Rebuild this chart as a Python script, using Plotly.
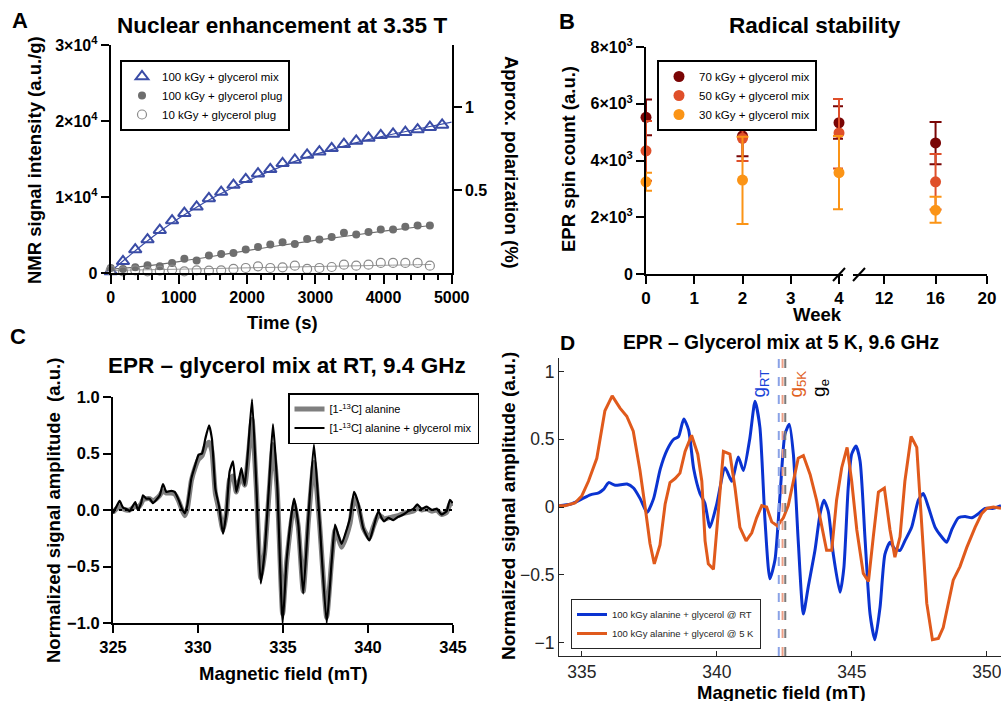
import plotly.graph_objects as go

W, H = 1001, 701
FONT = "Liberation Sans, Arial, Helvetica, sans-serif"

# ---------------- Panel A data ----------------
t_mix = [0, 180, 360, 540, 720, 900, 1080, 1260, 1440, 1620, 1800, 1980, 2160, 2340,
         2520, 2700, 2880, 3060, 3240, 3420, 3600, 3780, 3960, 4140, 4320, 4500, 4680, 4860]
nmr_mix_100 = [200, 1540, 3080, 4400, 5630, 6900, 7870, 8710, 9810, 10650, 11570, 12320,
               13070, 13640, 14430, 14870, 15530, 15970, 16410, 16940, 17380, 17770, 18120,
               18300, 18520, 18870, 19180, 19490]
t_plug = [0, 180, 360, 540, 720, 900, 1080, 1260, 1440, 1620, 1800, 1980, 2160, 2340,
          2520, 2700, 2880, 3060, 3240, 3420, 3600, 3780, 3960, 4140, 4320, 4500, 4680]
nmr_plug_100 = [660, 530, 750, 1010, 880, 1320, 1890, 1630, 2290, 2510, 2640, 3080, 3430,
                3740, 4050, 3830, 4490, 4400, 4750, 5280, 5060, 5410, 5720, 5720, 6070,
                6250, 6250]
nmr_plug_10 = [350, 220, 350, 220, 310, 440, 220, 350, 310, 350, 530, 660, 880, 660, 750,
               970, 530, 660, 790, 1100, 970, 1100, 1320, 1320, 1320, 1320, 970]
fit_t_mix = [0, 250, 500, 750, 1000, 1500, 2000, 2500, 3000, 3500, 4000, 4500, 5000]
fit_mix_100 = [200, 2100, 3950, 5650, 7200, 9900, 12100, 14000, 15600, 16900, 18000, 18950, 19850]
fit_t_plug = [0, 500, 1000, 1500, 2000, 2500, 3000, 3500, 4000, 4500, 4700]
fit_plug_100 = [500, 900, 1500, 2200, 2950, 3650, 4300, 4900, 5500, 6050, 6250]
fit_plug_10 = [330, 420, 500, 590, 680, 760, 850, 930, 1010, 1090, 1120]
nmr_ticks = [0, 10000, 20000, 30000]
nmr_ticklabels = ["0", "1×10<sup>4</sup>", "2×10<sup>4</sup>", "3×10<sup>4</sup>"]
pol_ticks = [0.5, 1]
pol_ticklabels = ["0.5", "1"]

# ---------------- Panel B data ----------------
weeks = [0, 2, 4, 16]
spin_70 = [5520, 4870, 5330, 4620]
spin_70_lo = [4890, 4150, 4770, 3870]
spin_70_hi = [6150, 5590, 5910, 5360]
spin_50 = [4340, 4780, 4970, 3250]
spin_50_lo = [3290, 3980, 3720, 2270]
spin_50_hi = [5390, 5570, 6170, 4230]
spin_30 = [3250, 3310, 3570, 2250]
spin_30_lo = [2930, 1760, 2280, 1810]
spin_30_hi = [3570, 4840, 4860, 2720]
spin_ticks = [0, 2000, 4000, 6000, 8000]
spin_ticklabels = ["0", "2×10<sup>3</sup>", "4×10<sup>3</sup>", "6×10<sup>3</sup>", "8×10<sup>3</sup>"]

# ---------------- Panel C data ----------------
field_c = [325.0, 325.2, 325.39, 325.59, 325.78, 325.98, 326.18, 326.31, 326.47, 326.67,
           326.76, 326.96, 327.16, 327.35, 327.55, 327.75, 327.94, 328.14, 328.43, 328.63,
           328.86, 329.06, 329.22, 329.37, 329.61, 329.84, 330.04, 330.24, 330.43, 330.65,
           330.82, 331.02, 331.24, 331.47, 331.67, 331.86, 332.06, 332.25, 332.39, 332.55,
           332.75, 332.94, 333.18, 333.43, 333.69, 333.92, 334.18, 334.41, 334.66, 334.98,
           335.22, 335.65, 335.9, 336.19, 336.49, 336.82, 337.14, 337.57, 337.86, 338.06,
           338.25, 338.45, 338.71, 338.94, 339.18, 339.43, 339.72, 340.08, 340.31, 340.61,
           340.8, 340.94, 341.2, 341.49, 341.78, 342.08, 342.37, 342.67, 342.9, 343.16,
           343.45, 343.75, 344.04, 344.33, 344.63, 344.82, 344.98]
epr_mix = [-0.03, 0.03, 0.08, 0.02, 0.01, -0.01, 0.04, 0.07, 0.0, 0.07,
           0.13, 0.10, 0.10, 0.06, 0.09, 0.13, 0.23, 0.16, 0.17, 0.16,
           0.09, 0.01, -0.03, 0.04, 0.28, 0.40, 0.49, 0.50, 0.63, 0.75,
           0.63, 0.19, 0.03, -0.21, -0.02, 0.34, 0.43, 0.16, 0.25, 0.37,
           0.22, 0.52, 0.98, 0.22, -0.65, -0.37, 0.22, 0.76, 0.22, -1.0,
           -0.43, 0.10, -0.13, -0.74, -0.07, 0.58, -0.07, -1.0, -0.46, -0.13,
           -0.22, -0.30, -0.19, -0.07, 0.16, 0.06, -0.16, -0.27, -0.16, -0.01,
           -0.07, -0.10, -0.07, -0.09, -0.06, -0.04, -0.01, 0.01, 0.05, 0.01,
           0.03, 0.0, 0.01, -0.04, -0.01, 0.09, 0.06]
epr_alanine = [-0.02, 0.01, 0.03, 0.01, 0.0, 0.0, 0.02, 0.04, 0.02, 0.06,
               0.09, 0.10, 0.10, 0.08, 0.10, 0.13, 0.17, 0.15, 0.15, 0.14,
               0.08, 0.0, -0.05, 0.01, 0.26, 0.38, 0.45, 0.48, 0.56, 0.60,
               0.52, 0.15, 0.0, -0.18, -0.03, 0.27, 0.30, 0.16, 0.24, 0.30,
               0.22, 0.45, 0.80, 0.20, -0.60, -0.38, 0.15, 0.58, 0.18, -0.92,
               -0.45, 0.06, -0.15, -0.72, -0.10, 0.42, -0.10, -0.95, -0.45, -0.18,
               -0.25, -0.33, -0.24, -0.12, 0.10, 0.03, -0.16, -0.25, -0.15, -0.04,
               -0.06, -0.08, -0.07, -0.06, -0.05, -0.03, -0.02, -0.01, 0.02, 0.0,
               0.01, -0.01, 0.0, -0.04, -0.02, 0.05, 0.06]

# ---------------- Panel D data ----------------
field_rt = [334.15, 334.57, 335.0, 335.31, 335.62, 335.8, 335.99, 336.23, 336.67, 336.91,
            337.16, 337.41, 337.65, 337.9, 338.15, 338.4, 338.58, 338.77, 338.95, 339.14,
            339.37, 339.55, 339.74, 339.99, 340.3, 340.55, 340.79, 340.98, 341.22, 341.41,
            341.59, 341.78, 341.96, 342.15, 342.34, 342.52, 342.68, 342.83, 343.01, 343.2,
            343.38, 343.63, 343.82, 343.96, 344.12, 344.31, 344.56, 344.7, 344.86, 344.99,
            345.15, 345.3, 345.48, 345.67, 345.85, 346.04, 346.22, 346.41, 346.59, 346.78,
            346.96, 347.21, 347.46, 347.64, 347.83, 348.08, 348.32, 348.51, 348.69, 348.94,
            349.19, 349.44, 349.68, 349.93, 350.24, 350.52]
epr_rt = [0.01, 0.02, 0.06, 0.09, 0.105, 0.13, 0.18, 0.16, 0.17, 0.14,
          0.06, -0.04, 0.06, 0.28, 0.42, 0.50, 0.52, 0.65, 0.57, 0.28,
          0.10, 0.03, -0.15, 0.02, 0.29, 0.19, 0.37, 0.27, 0.51, 0.78,
          0.59, -0.10, -0.53, -0.39, 0.10, 0.54, 0.61, 0.39, -0.25, -0.79,
          -0.59, -0.32, -0.05, 0.05, -0.03, -0.35, -0.63, -0.45, 0.14, 0.39,
          0.45, 0.34, -0.22, -0.79, -0.98, -0.74, -0.35, -0.26, -0.31, -0.32,
          -0.25, -0.15, 0.05, 0.10, 0.0, -0.15, -0.22, -0.26, -0.17, -0.08,
          -0.07, -0.08, -0.05, -0.01, -0.01, 0.01]
field_5k = [334.13, 334.37, 334.74, 334.99, 335.24, 335.55, 335.85, 336.12, 336.41, 336.66,
            336.9, 337.15, 337.34, 337.52, 337.68, 337.89, 338.08, 338.26, 338.45, 338.63,
            338.82, 339.06, 339.29, 339.44, 339.56, 339.68, 339.87, 340.05, 340.24, 340.48,
            340.67, 340.85, 341.08, 341.29, 341.47, 341.66, 341.84, 342.03, 342.24, 342.46,
            342.64, 342.83, 343.01, 343.2, 343.45, 343.69, 343.88, 344.06, 344.25, 344.43,
            344.62, 344.82, 344.99, 345.18, 345.42, 345.61, 345.79, 345.98, 346.2, 346.41,
            346.59, 346.78, 346.96, 347.19, 347.4, 347.58, 347.77, 347.98, 348.2, 348.38,
            348.57, 348.75, 349.0, 349.25, 349.56, 349.8, 349.99, 350.24, 350.52]
epr_5k = [0.01, 0.01, 0.03, 0.08, 0.19, 0.36, 0.71, 0.82, 0.73, 0.67,
          0.56, 0.27, 0.0, -0.27, -0.42, -0.28, 0.02, 0.18, 0.21, 0.25,
          0.41, 0.53, 0.39, 0.19, -0.25, -0.42, -0.46, -0.03, 0.41, 0.39,
          0.14, -0.15, -0.25, -0.19, -0.08, 0.01, 0.0, -0.11, -0.14, -0.08,
          0.01, 0.19, 0.36, 0.38, 0.24, 0.05, -0.15, -0.32, -0.32, 0.05,
          0.29, 0.44, 0.19, -0.17, -0.49, -0.55, -0.22, 0.11, 0.14, -0.17,
          -0.37, -0.22, 0.19, 0.52, 0.44, -0.10, -0.71, -0.98, -0.97, -0.89,
          -0.71, -0.54, -0.44, -0.30, -0.15, -0.05, -0.01, 0.0, -0.01]
g_names = ["g<sub>RT</sub>", "g<sub>5K</sub>", "g<sub>e</sub>"]
g_fields = [342.29, 342.43, 342.53]
g_label_x = [341.59, 342.96, 343.82]
g_label_y = [0.91, 0.91, 0.88]

# ---------------- helpers (layout only) ----------------
def dx(a, b):
    return [a / W, b / W]

def dy(top, bot):
    return [1 - bot / H, 1 - top / H]

def bold(size, color="black"):
    return dict(family=FONT, size=size, color=color, weight="bold")

def label(text, x, y, size, angle=0, weight="bold", color="black"):
    return dict(text=text, x=x / W, y=1 - y / H, xref="paper", yref="paper", showarrow=False,
                xanchor="center", yanchor="middle", textangle=angle,
                font=dict(family=FONT, size=size, color=color, weight=weight))

BLUE_A = "#3a4ca6"
GRAY_A = "#6e6e6e"
C70, C50, C30 = "#7a0505", "#df4f2a", "#fb9416"
BLUE_D, ORANGE_D = "#0a33d1", "#e05a1c"

fig = go.Figure()

# ---- Panel A ----
fig.add_trace(go.Scatter(x=fit_t_mix, y=fit_mix_100, mode="lines", line=dict(color=BLUE_A, width=1.2, shape="spline"),
                         xaxis="x", yaxis="y", showlegend=False, hoverinfo="skip"))
fig.add_trace(go.Scatter(x=fit_t_plug, y=fit_plug_100, mode="lines", line=dict(color=GRAY_A, width=1.2, shape="spline"),
                         xaxis="x", yaxis="y", showlegend=False, hoverinfo="skip"))
fig.add_trace(go.Scatter(x=fit_t_plug, y=fit_plug_10, mode="lines", line=dict(color="#9a9a9a", width=1.0, shape="spline"),
                         xaxis="x", yaxis="y", showlegend=False, hoverinfo="skip"))
fig.add_trace(go.Scatter(x=t_mix, y=nmr_mix_100, mode="markers", name="100 kGy + glycerol mix",
                         marker=dict(symbol="triangle-up-open", size=11, color=BLUE_A, line=dict(width=2, color=BLUE_A)),
                         xaxis="x", yaxis="y", legend="legend", cliponaxis=False))
fig.add_trace(go.Scatter(x=t_plug, y=nmr_plug_100, mode="markers", name="100 kGy + glycerol plug",
                         marker=dict(symbol="circle", size=8, color=GRAY_A),
                         xaxis="x", yaxis="y", legend="legend", cliponaxis=False))
fig.add_trace(go.Scatter(x=t_plug, y=nmr_plug_10, mode="markers", name="10 kGy + glycerol plug",
                         marker=dict(symbol="circle-open", size=9, color="#8a8a8a", line=dict(width=1.2, color="#8a8a8a")),
                         xaxis="x", yaxis="y", legend="legend", cliponaxis=False))
fig.add_trace(go.Scatter(x=[0], y=[0], mode="markers", marker=dict(opacity=0), xaxis="x", yaxis="y2",
                         showlegend=False, hoverinfo="skip"))

# ---- Panel B ----
series_b = [
    ("70 kGy + glycerol mix", spin_70, spin_70_lo, spin_70_hi, C70),
    ("50 kGy + glycerol mix", spin_50, spin_50_lo, spin_50_hi, C50),
    ("30 kGy + glycerol mix", spin_30, spin_30_lo, spin_30_hi, C30),
]
for name, vals, lo, hi, col in series_b:
    for seg, xa in ((0, "x2"), (1, "x3")):
        idx = [i for i, w in enumerate(weeks) if (w <= 4) == (seg == 0)]
        fig.add_trace(go.Scatter(
            x=[weeks[i] for i in idx], y=[vals[i] for i in idx], mode="markers", name=name,
            marker=dict(symbol="circle", size=11, color=col),
            error_y=dict(type="data", symmetric=False,
                         array=[hi[i] - vals[i] for i in idx],
                         arrayminus=[vals[i] - lo[i] for i in idx],
                         color=col, thickness=2, width=6),
            xaxis=xa, yaxis="y3", legend="legend2", legendgroup=name, showlegend=(seg == 0),
            cliponaxis=False))

# ---- Panel C ----
fig.add_trace(go.Scatter(x=field_c, y=epr_alanine, mode="lines", name="[1-<sup>13</sup>C] alanine",
                         line=dict(color="#7f7f7f", width=5, shape="spline", smoothing=0.5),
                         xaxis="x4", yaxis="y4", legend="legend3"))
fig.add_trace(go.Scatter(x=field_c, y=epr_mix, mode="lines", name="[1-<sup>13</sup>C] alanine + glycerol mix",
                         line=dict(color="black", width=2.2, shape="spline", smoothing=0.5),
                         xaxis="x4", yaxis="y4", legend="legend3"))

# ---- Panel D ----
fig.add_trace(go.Scatter(x=field_rt, y=epr_rt, mode="lines", name="100 kGy alanine + glycerol @ RT",
                         line=dict(color=BLUE_D, width=3, shape="spline", smoothing=0.6),
                         xaxis="x5", yaxis="y5", legend="legend4"))
fig.add_trace(go.Scatter(x=field_5k, y=epr_5k, mode="lines", name="100 kGy alanine + glycerol @ 5 K",
                         line=dict(color=ORANGE_D, width=3),
                         xaxis="x5", yaxis="y5", legend="legend4"))

axis_common = dict(showgrid=False, zeroline=False, showline=True, linecolor="black", linewidth=2,
                   ticks="outside", tickwidth=2, tickcolor="black", ticklen=8, automargin=False)
axis_matlab = dict(showgrid=False, zeroline=False, showline=True, linecolor="#262626", linewidth=1,
                   ticks="inside", ticklen=5, tickcolor="#262626", automargin=False,
                   ticklabeloverflow="allow",
                   tickfont=dict(family=FONT, size=17.5, color="#262626"))

shapes = []
for a, b in ((833, 845), (853, 865)):
    shapes.append(dict(type="line", xref="paper", yref="paper", x0=a / W, x1=b / W,
                       y0=1 - 281 / H, y1=1 - 268 / H, line=dict(color="black", width=2)))
shapes.append(dict(type="line", xref="x4 domain", yref="y4", x0=0, x1=1, y0=0, y1=0,
                   line=dict(color="black", width=2, dash="dot")))
g_cols = ["#8aa2e6", "#ec9f86", "#7a7a7a"]
for g, c in zip(g_fields, g_cols):
    shapes.append(dict(type="line", xref="x5", yref="y5 domain", x0=g, x1=g, y0=0, y1=1,
                       line=dict(color=c, width=2, dash="dash")))

annotations = [
    label("A", 20, 20, 22),
    label("Nuclear enhancement at 3.35 T", 282, 26, 22.5),
    label("Time (s)", 282, 322, 18.5),
    label("NMR signal intensity (a.u./g)", 34, 160, 18.5, angle=-90),
    label("Approx. polarization (%)", 512, 162, 18.5, angle=90),
    label("B", 567, 22, 22),
    label("Radical stability", 815, 26, 22.5),
    label("Week", 817, 314, 18.5),
    label("EPR spin count (a.u.)", 568, 159, 18.5, angle=-90),
    label("C", 18, 336, 22),
    label("EPR – glycerol mix at RT, 9.4 GHz", 287, 366, 22.5),
    label("Magnetic field (mT)", 283, 673, 18.5),
    label("Normalized signal amplitude  (a.u.)", 53, 511, 18.5, angle=-90),
    label("D", 567, 343, 21),
    label("EPR – Glycerol mix at 5 K, 9.6 GHz", 781, 343, 19.3),
    label("Magnetic field (mT)", 781, 692, 18.5),
    label("Normalized signal amplitude (a.u.)", 508, 506, 19, angle=-90),
]
for name, gx, gy, c in zip(g_names, g_label_x, g_label_y, ["#1a44d8", "#e0601e", "black"]):
    annotations.append(dict(text=name, x=gx, y=gy, xref="x5", yref="y5", showarrow=False, textangle=-90,
                            font=dict(family=FONT, size=19, color=c)))

legend_common = dict(bgcolor="white", bordercolor="black", xanchor="left", yanchor="top",
                     tracegroupgap=0, itemwidth=30)

fig.update_layout(
    template="none",
    width=W, height=H, margin=dict(l=0, r=0, t=0, b=0, autoexpand=False),
    paper_bgcolor="white", plot_bgcolor="rgba(0,0,0,0)",
    font=dict(family=FONT, color="black"),
    showlegend=True,
    xaxis=dict(axis_common, domain=dx(110.7, 451.7), anchor="y", range=[0, 5000], dtick=1000,
               tickfont=bold(16), ticklen=9,
               minor=dict(ticks="outside", ticklen=5, dtick=200, tickwidth=2, tickcolor="black", showgrid=False)),
    yaxis=dict(axis_common, domain=dy(45, 273), anchor="x", range=[0, 30000],
               tickvals=nmr_ticks, ticktext=nmr_ticklabels, tickfont=bold(16)),
    yaxis2=dict(axis_common, overlaying="y", side="right", anchor="x", range=[0, 1.3735],
                tickvals=pol_ticks, ticktext=pol_ticklabels, tickfont=bold(16)),
    xaxis2=dict(axis_common, domain=dx(646, 843), anchor="y3", range=[0, 4.083], dtick=1,
                tickfont=bold(17)),
    xaxis3=dict(axis_common, domain=dx(853, 987), anchor="y3", range=[9.58, 20],
                tickvals=[12, 16, 20], tickfont=bold(17)),
    yaxis3=dict(axis_common, domain=dy(47, 274), anchor="x2", range=[0, 8000],
                tickvals=spin_ticks, ticktext=spin_ticklabels, tickfont=bold(16)),
    xaxis4=dict(axis_common, domain=dx(113, 453), anchor="y4", range=[325, 345], dtick=5,
                tickfont=bold(16.5)),
    yaxis4=dict(axis_common, domain=dy(397, 623), anchor="x4", range=[-1.0, 1.0],
                tickvals=[-1, -0.5, 0, 0.5, 1], tickformat=".1f", tickfont=bold(16.5)),
    xaxis5=dict(axis_matlab, domain=dx(559, 1001), anchor="y5", range=[334.15, 350.52],
                tickvals=[335, 340, 345, 350]),
    yaxis5=dict(axis_matlab, domain=dy(358, 656), anchor="x5", range=[-1.1, 1.1],
                tickvals=[-1, -0.5, 0, 0.5, 1]),
    legend=dict(legend_common, x=120 / W, y=1 - 60 / H, borderwidth=2, font=dict(family=FONT, size=11.5)),
    legend2=dict(legend_common, x=657 / W, y=1 - 60 / H, borderwidth=2, font=dict(family=FONT, size=11.5)),
    legend3=dict(legend_common, x=288 / W, y=1 - 393 / H, borderwidth=1.5, font=dict(family=FONT, size=11)),
    legend4=dict(legend_common, x=571 / W, y=1 - 599 / H, borderwidth=1, bordercolor="#262626",
                 font=dict(family=FONT, size=9.5, color="#262626")),
    shapes=shapes,
    annotations=annotations,
)

fig.write_html("out.html", config={"displayModeBar": False},
               post_script="document.body.style.margin='0';document.body.style.overflow='hidden';")
